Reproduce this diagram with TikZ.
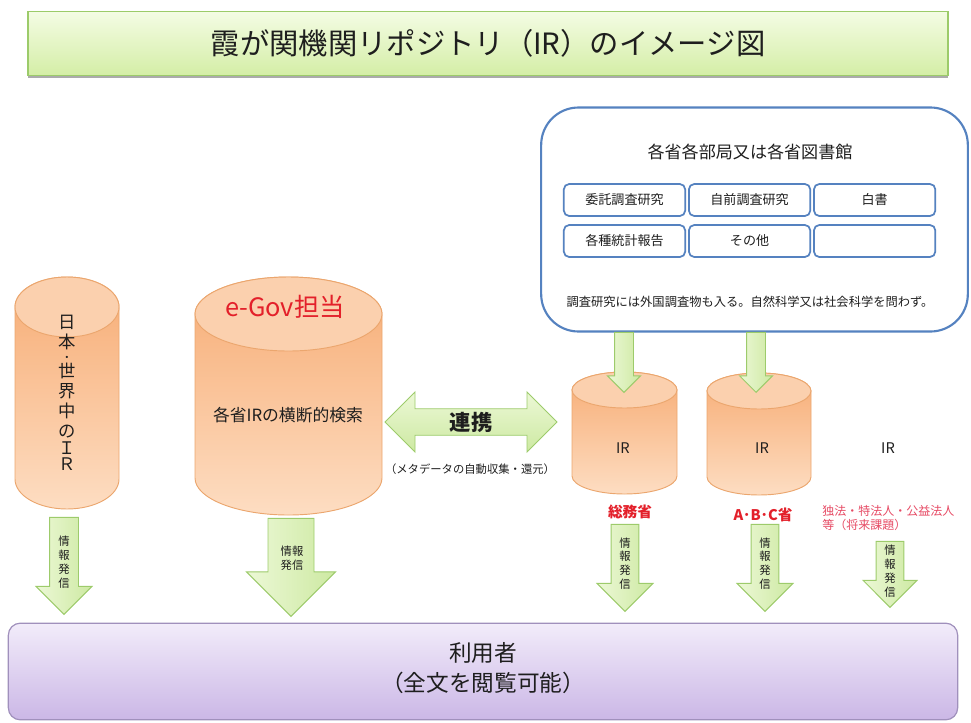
\documentclass[tikz,border=0pt]{standalone}
\usepackage{fontspec}
\setmainfont{Noto Sans CJK JP}
\usetikzlibrary{positioning,shapes.arrows,shadows}
\definecolor{ink}{HTML}{1E1E1E}
\definecolor{titleline}{HTML}{9CCB6A}
\definecolor{titletop}{HTML}{F4FCE4}
\definecolor{titlebot}{HTML}{D4EEA6}
\definecolor{frame}{HTML}{5582C0}
\definecolor{cylline}{HTML}{EBA66E}
\definecolor{cyltop}{HTML}{F7AC74}
\definecolor{cylbot}{HTML}{FDDDC2}
\definecolor{capfill}{HTML}{FBD0AE}
\definecolor{arrline}{HTML}{9DCB6B}
\definecolor{arrtop}{HTML}{ECF8D6}
\definecolor{arrbot}{HTML}{CDE9A2}
\definecolor{userline}{HTML}{A090BC}
\definecolor{usertop}{HTML}{F2ECFA}
\definecolor{userbot}{HTML}{CBB7E6}
\definecolor{alert}{HTML}{E3202A}
\definecolor{soft}{HTML}{E64A64}
\tikzset{
  titlebox/.style={draw=titleline,line width=0.9pt,top color=titletop,bottom color=titlebot,drop shadow={shadow xshift=0pt,shadow yshift=-2.2pt,fill=black!60,opacity=.55},minimum width=690pt,minimum height=48pt,font=\fontsize{22}{26}\selectfont,text=ink},
  srcbox/.style={draw=frame,line width=1.6pt,fill=white,rounded corners=28pt,minimum width=320pt,minimum height=168pt},
  kind/.style={draw=frame,line width=1.3pt,fill=white,rounded corners=4pt,minimum width=91pt,minimum height=24pt,inner sep=0pt,font=\fontsize{9.8}{11}\selectfont,text=ink},
  irbody/.style={draw=cylline,line width=0.7pt,top color=cyltop,bottom color=cylbot},
  ircap/.style={draw=cylline,line width=0.7pt,fill=capfill},
  label/.style={inner sep=0pt,align=center,text=ink,font=\fontsize{#1}{#1}\selectfont},
  redlabel/.style={inner sep=0pt,text=alert,font=\fontsize{11}{13}\selectfont\bfseries},
  downarrow/.style={single arrow,single arrow head extend=#1,draw=arrline,line width=0.7pt,left color=arrtop,right color=arrbot,rotate=-90,inner xsep=0pt,anchor=tip},
  linkarrow/.style={double arrow,double arrow head extend=10.1pt,draw=arrline,line width=0.7pt,top color=arrtop,bottom color=arrbot,inner sep=0pt,minimum height=129pt,minimum width=45pt,font=\fontsize{16}{18}\selectfont\bfseries,text=ink},
  sendtext/.style={inner sep=0pt,align=center,text=ink,font=\fontsize{8.5}{10.4}\selectfont},
  userbar/.style={draw=userline,line width=0.9pt,top color=usertop,bottom color=userbot,rounded corners=9pt,minimum width=712pt,minimum height=72.5pt}
}
\newcommand\irstore[5]{%
  \path[irbody] ({#1-#4},{#2+#5}) -- ({#1-#4},{#3-#5})
    arc[start angle=180,end angle=0,x radius=#4,y radius=#5]
    -- ({#1+#4},{#2+#5}) arc[start angle=0,end angle=-180,x radius=#4,y radius=#5] -- cycle;
  \path[ircap] (#1,{#2+#5}) ellipse[x radius=#4,y radius=#5];
}
\begin{document}
\begin{tikzpicture}[x=0.75pt,y=-0.75pt]
  \useasboundingbox (0,0) rectangle (971,722);

  \node[titlebox] (title) at (488,43.5) {霞が関機関リポジトリ（IR）のイメージ図};

  \node[srcbox] (src) at (754.5,219.5) {};
  \node[label=12.8] (srchead) at (750,152) {各省各部局又は各省図書館};
  \node[kind] (k1) at (624.5,200) {委託調査研究};
  \node[kind,right=1.5pt of k1] (k2) {自前調査研究};
  \node[kind,right=1.5pt of k2] (k3) {白書};
  \node[kind] (k4) at (624.5,241) {各種統計報告};
  \node[kind,right=1.5pt of k4] (k5) {その他};
  \node[kind,right=1.5pt of k5] (k6) {};
  \node[label=9.2] (srcnote) at (750,302) {調査研究には外国調査物も入る。自然科学又は社会科学を問わず。};

  \irstore{67}{277}{509}{52}{30}
  \irstore{288.5}{277}{515}{93.5}{37}
  \irstore{624.5}{372}{494}{52.5}{18}
  \irstore{759}{373}{495}{52}{18}

  \node[label=13,font=\fontsize{13}{15}\selectfont] (world) at (67,393) {日\\本\\[-5.5pt]{\fontsize{8}{8}\selectfont ・}\\[-2.5pt]世\\界\\中\\の\\[-2.2pt]Ｉ\\[-3pt]Ｒ};
  \node[inner sep=0pt,text=alert,font=\fontsize{19}{21}\selectfont] (egov) at (285,307) {e-Gov担当};
  \node[label=12.6] (search) at (288,415) {各省IRの横断的検索};
  \node[label=11] (irA) at (623,448) {IR};
  \node[label=11] (irB) at (762,448) {IR};
  \node[label=11] (irC) at (888,448) {IR};

  \node[redlabel] (somu) at (630,512) {総務省};
  \node[redlabel] (abc) at (763,515) {A･B･C省};
  \node[inner sep=0pt,align=left,anchor=west,text=soft,font=\fontsize{9}{10.6}\selectfont] (other) at (822,518) {独法・特法人・公益法人\\等（将来課題）};

  \node[linkarrow] (link) at (471,422) {連携};
  \node[label=8.5] (linknote) at (470,469) {（メタデータの自動収集・還元）};

  \node[downarrow=5.25pt,inner ysep=6.75pt,minimum height=45pt,minimum width=24pt] (feedA) at (624,393) {};
  \node[downarrow=5.25pt,inner ysep=6.75pt,minimum height=45pt,minimum width=24pt] (feedB) at (756,393) {};

  \node[downarrow=10.1pt,inner ysep=10.5pt,minimum height=72.75pt,minimum width=41.25pt] (outW) at (64,615) {};
  \node[downarrow=16.1pt,inner ysep=16.9pt,minimum height=73.5pt,minimum width=66pt] (outG) at (291,617) {};
  \node[downarrow=10.5pt,inner ysep=10.1pt,minimum height=65.25pt,minimum width=41.25pt] (outA) at (625,612) {};
  \node[downarrow=10.5pt,inner ysep=10.1pt,minimum height=65.25pt,minimum width=41.25pt] (outB) at (765,612) {};
  \node[downarrow=9.75pt,inner ysep=10.1pt,minimum height=49.5pt,minimum width=39.75pt] (outC) at (890,608) {};
  \node[sendtext] (sendW) at (64,562) {情\\報\\発\\信};
  \node[sendtext] (sendG) at (292,558) {情報\\発信};
  \node[sendtext] (sendA) at (625,563.5) {情\\報\\発\\信};
  \node[sendtext] (sendB) at (765,563.5) {情\\報\\発\\信};
  \node[sendtext] (sendC) at (890,571) {情\\報\\発\\信};

  \node[userbar] (user) at (483,671.5) {};
  \node[label=17,font=\fontsize{17}{23}\selectfont] (usertext) at (483,668) {利用者\\（全文を閲覧可能）};
\end{tikzpicture}
\end{document}
